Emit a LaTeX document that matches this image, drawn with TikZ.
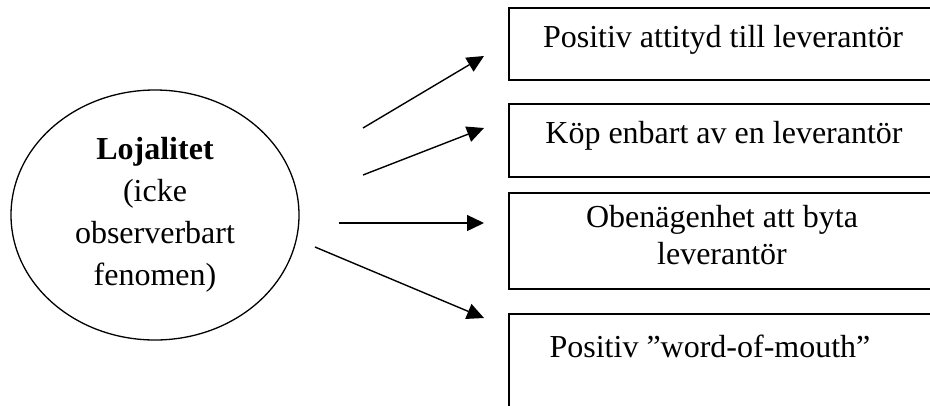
\documentclass[tikz,border=0pt]{standalone}
\usepackage{fontspec}
\setmainfont{Liberation Serif}
\usetikzlibrary{shapes.geometric,arrows.meta}
\begin{document}
\begin{tikzpicture}[x=1bp,y=-1bp,
  box/.style={draw, line width=1.6bp, rectangle, anchor=north west, inner sep=0pt, minimum width=440bp},
  txt/.style={font=\fontsize{32bp}{37bp}\selectfont, inner sep=0pt, align=center},
  conn/.style={line width=1.4bp, -{Triangle[length=17bp,width=16bp]}}]
\useasboundingbox (0,0) rectangle (930,405);
\clip (0,0) rectangle (930,405);
% ellipse
\node[draw, ellipse, line width=1.3bp, minimum width=288bp, minimum height=250bp, inner sep=0pt,
  font=\fontsize{32bp}{42bp}\selectfont, align=center] (e) at (155,215)
  {\textbf{Lojalitet}\\(icke\\observerbart\\fenomen)};
% boxes
\node[box, minimum height=72bp] (b1) at (508,7) {};
\node[box, minimum height=73bp] (b2) at (508,103) {};
\node[box, minimum height=96bp] (b3) at (508,192) {};
\node[box, minimum height=120bp] (b4) at (508,313) {};
% texts
\node[txt, anchor=base] (t1) at (723,47) {Positiv attityd till leverantör};
\node[txt, anchor=base] (t2) at (724,143) {Köp enbart av en leverantör};
\node[txt] (t3) at (722,235) {Obenägenhet att byta\\leverantör};
\node[txt, anchor=base] (t4) at (710,357) {Positiv ”word-of-mouth”};
% arrow end points
\coordinate (s1) at (363,128); \coordinate (e1) at (484,56);
\coordinate (s2) at (363,175); \coordinate (e2) at (484,128);
\coordinate (s3) at (339,223); \coordinate (e3) at (484,223);
\coordinate (s4) at (315,247); \coordinate (e4) at (484,318);
\draw[conn] (s1) -- (e1);
\draw[conn] (s2) -- (e2);
\draw[conn] (s3) -- (e3);
\draw[conn] (s4) -- (e4);
\end{tikzpicture}
\end{document}
